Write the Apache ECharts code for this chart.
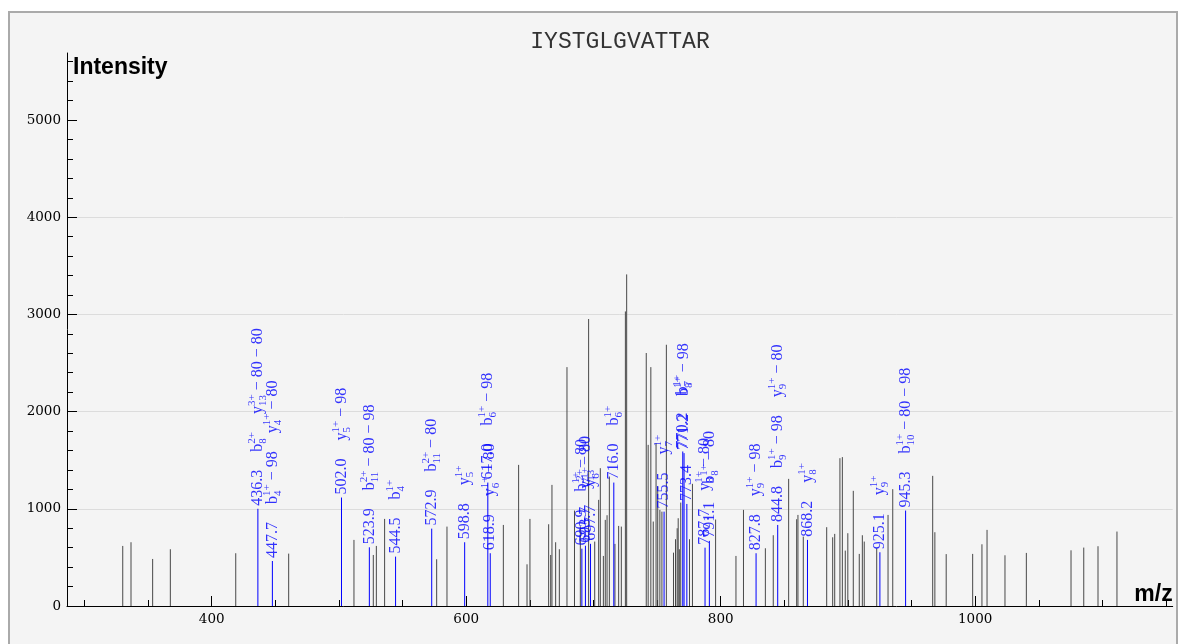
<!DOCTYPE html>
<html><head><meta charset="utf-8">
<script src="https://cdn.jsdelivr.net/npm/echarts@6/dist/echarts.min.js"></script>
<style>
html,body{margin:0;padding:0;background:#fff;}
body{width:1180px;height:644px;overflow:hidden;position:relative;}
#frame{position:absolute;left:8px;top:11px;width:1166px;height:700px;border:2px solid #aaa;background:#f4f4f4;}
#chart{position:absolute;left:0;top:0;width:1180px;height:644px;}
</style></head><body>
<div id="frame"></div><div id="chart"></div>
<script>
const titleText = 'IYSTGLGVATTAR';
const xName = 'm/z';
const yName = 'Intensity';
const xMin = 286.3, xMax = 1155.2, yMin = 0, yMax = 5690;
const xMajorTicks = [400, 600, 800, 1000];
const xMinorTicks = [300, 350, 450, 500, 550, 650, 700, 750, 850, 900, 950, 1050, 1100, 1150];
const yMajorTicks = [0, 1000, 2000, 3000, 4000, 5000];
const yMinorTicks = [200, 400, 600, 800, 1200, 1400, 1600, 1800, 2200, 2400, 2600, 2800, 3200, 3400, 3600, 3800, 4200, 4400, 4600, 4800, 5200, 5400, 5600];

// unannotated peaks
const peakMz = [330.1, 336.6, 353.6, 367.5, 418.9, 460.5, 511.8, 527.0, 529.4, 535.9, 576.8, 584.9,
  629.2, 641.2, 647.8, 650.1, 664.8, 666.4, 667.4, 670.3, 673.2, 679.2, 685.1, 689.7, 696.2,
  701.0, 704.1, 705.4, 707.8, 709.3, 710.7, 712.5, 716.9, 719.8, 721.9, 725.1, 726.1,
  741.5, 743.0, 745.1, 747.0, 749.2, 750.5, 752.2, 753.8, 757.3, 762.9, 764.5, 765.8, 766.6, 767.5, 768.6,
  775.5, 777.8, 796.0, 812.0, 817.9, 835.1, 841.3, 853.4, 859.7, 860.7, 864.9, 883.3, 888.0, 889.6,
  893.7, 895.6, 897.9, 899.9, 904.2, 908.9, 911.3, 912.8, 922.6, 931.5, 935.2, 966.6, 968.3, 977.2,
  998.0, 1005.3, 1009.3, 1023.4, 1040.2, 1075.3, 1085.3, 1096.5, 1111.4];
const peakInt = [618, 656, 484, 584, 543, 539, 680, 525, 618, 896, 481, 817,
  834, 1452, 429, 896, 841, 525, 1246, 656, 584, 2458, 982, 820, 2953,
  663, 1092, 1418, 515, 886, 934, 1332, 639, 824, 817, 3031, 3412,
  2603, 1658, 2458, 869, 1676, 1229, 989, 971, 2688, 549, 687, 800, 903, 584, 1064,
  687, 1257, 890, 515, 989, 594, 728, 1308, 893, 937, 714, 811, 707, 742,
  1521, 1532, 570, 749, 1185, 536, 728, 663, 594, 937, 1202, 1339, 759, 534,
  536, 635, 783, 522, 546, 573, 601, 615, 766];

// annotated peaks
const annMz = [436.3, 447.7, 502.0, 523.9, 544.5, 572.9, 598.8, 617.0, 618.9, 690.9, 693.7, 697.7,
  716.0, 755.5, 770.2, 771.2, 773.4, 787.7, 791.1, 827.8, 844.8, 868.2, 925.1, 945.3];
const annInt = [1000, 463, 1116, 604, 508, 796, 656, 1270, 543, 590, 620, 640,
  1270, 971, 1590, 1573, 1050, 600, 670, 543, 834, 680, 553, 982];
const annIons = [
  ['b8^2+', 'y13^3+−80−80'],
  ['b4^1+−98', 'y4^1+−80'],
  ['y5^1+−98'],
  ['b11^2+−80−98'],
  ['b4^1+'],
  ['b11^2+−80'],
  ['y5^1+'],
  ['b6^1+−98'],
  ['y6^1+−80'],
  ['b7^1+−80'],
  ['y13^2+−80'],
  ['y6^1+'],
  ['b6^1+'],
  ['y7^1+'],
  ['b7^1+'],
  ['b8^1+−98'],
  [],
  ['y8^1+−80'],
  ['b8^1+−80'],
  ['y9^1+−98'],
  ['b9^1+−98', 'y9^1+−80'],
  ['y8^1+'],
  ['y9^1+'],
  ['b10^1+−80−98']
];

const peakColor = '#484848';
const annColor = '#0000ff';
const serif = '"Liberation Serif", "Times New Roman", serif';
const tickFont = '"DejaVu Serif", serif';

function ionRich(s) {
  const m = s.match(/^([a-z])(\d+)\^(\d*[+-])(.*)$/);
  if (!m) return '{n|' + s + '}';
  let rest = m[4].replace(/−/g, ' − ');
  let out = '{n|' + m[1] + '}{sb|' + m[2] + '}{sp|' + m[3] + '}';
  if (rest) out += '{n|' + rest + '}';
  return out;
}

const grayData = peakMz.map((m, i) => [m, peakInt[i]]);
const annData = annMz.map((m, i) => [m, annInt[i]]);

function stick(color) {
  return function (params, api) {
    const top = api.coord([api.value(0), api.value(1)]);
    const base = api.coord([api.value(0), 0]);
    return {
      type: 'line',
      shape: { x1: top[0], y1: base[1], x2: top[0], y2: top[1] },
      style: { stroke: color, lineWidth: 1 }
    };
  };
}

const plain = function (v) { return String(v); };

const chart = echarts.init(document.getElementById('chart'), null, { renderer: 'canvas' });
const gridPos = { left: 67, right: 7.3, top: 53, bottom: 38 };

chart.setOption({
  animation: false,
  backgroundColor: 'transparent',
  graphic: [{
    type: 'text', x: 620, y: 42, silent: true,
    style: { text: titleText, font: '23px "Liberation Mono", monospace', fill: '#333', textAlign: 'center', textVerticalAlign: 'middle' }
  }],
  grid: [Object.assign({}, gridPos), Object.assign({}, gridPos)],
  xAxis: [{
    type: 'value', gridIndex: 0, min: xMin, max: xMax,
    name: xName, nameLocation: 'end', nameGap: 0,
    nameTextStyle: { fontFamily: '"Liberation Sans", Arial, sans-serif', fontWeight: 'bold', fontSize: 23, color: '#000', align: 'right', verticalAlign: 'bottom' },
    axisLine: { show: true, onZero: false, lineStyle: { color: '#000', width: 1 } },
    axisTick: { show: true, inside: true, length: 10, customValues: xMajorTicks, lineStyle: { color: '#000' } },
    axisLabel: { show: true, customValues: xMajorTicks, formatter: plain, margin: 6, fontFamily: tickFont, fontSize: 13.5, color: '#000' },
    splitLine: { show: false }
  }, {
    type: 'value', gridIndex: 1, min: xMin, max: xMax,
    axisLine: { show: false },
    axisTick: { show: true, inside: true, length: 6, customValues: xMinorTicks, lineStyle: { color: '#000' } },
    axisLabel: { show: false },
    splitLine: { show: false }
  }],
  yAxis: [{
    type: 'value', gridIndex: 0, min: yMin, max: yMax, interval: 1000,
    name: yName, nameLocation: 'end', nameGap: -15,
    nameTextStyle: { fontFamily: '"Liberation Sans", Arial, sans-serif', fontWeight: 'bold', fontSize: 23, color: '#000', align: 'left', verticalAlign: 'middle', padding: [0, 0, 0, 6] },
    axisLine: { show: true, onZero: false, lineStyle: { color: '#000', width: 1 } },
    axisTick: { show: true, inside: true, length: 10, customValues: yMajorTicks, lineStyle: { color: '#000' } },
    axisLabel: { show: true, customValues: yMajorTicks, formatter: plain, margin: 6, fontFamily: tickFont, fontSize: 13.5, color: '#000' },
    splitLine: { show: true, showMinLine: false, showMaxLine: false, lineStyle: { color: '#dcdcdc', width: 1 } }
  }, {
    type: 'value', gridIndex: 1, min: yMin, max: yMax,
    axisLine: { show: false },
    axisTick: { show: true, inside: true, length: 6, customValues: yMinorTicks, lineStyle: { color: '#000' } },
    axisLabel: { show: false },
    splitLine: { show: false }
  }],
  series: [{
    type: 'custom', xAxisIndex: 0, yAxisIndex: 0, silent: true,
    renderItem: stick(peakColor), encode: { x: 0, y: 1 }, data: grayData, z: 2
  }, {
    type: 'custom', xAxisIndex: 0, yAxisIndex: 0, silent: true,
    renderItem: stick(annColor), encode: { x: 0, y: 1 }, data: annData, z: 3
  }, {
    type: 'scatter', xAxisIndex: 0, yAxisIndex: 0, silent: true, z: 4,
    symbolSize: 0.1, itemStyle: { color: 'transparent' },
    data: annData,
    label: {
      show: true, position: 'top', distance: 3, rotate: 90,
      align: 'left', verticalAlign: 'middle',
      color: annColor, fontFamily: serif, fontSize: 16,
      formatter: function (p) {
        const i = p.dataIndex;
        let s = '{n|' + annMz[i].toFixed(1) + '}';
        annIons[i].forEach(function (ion) { s += '{g| }' + ionRich(ion); });
        return s;
      },
      rich: {
        n: { fontFamily: serif, fontSize: 16, lineHeight: 22, color: annColor },
        sb: { fontFamily: serif, fontSize: 11, lineHeight: 11, verticalAlign: 'bottom', width: 0, color: annColor },
        sp: { fontFamily: serif, fontSize: 11, lineHeight: 11, verticalAlign: 'top', color: annColor },
        g: { fontFamily: serif, fontSize: 16, lineHeight: 22, width: 18 }
      }
    }
  }]
});
</script>
</body></html>
